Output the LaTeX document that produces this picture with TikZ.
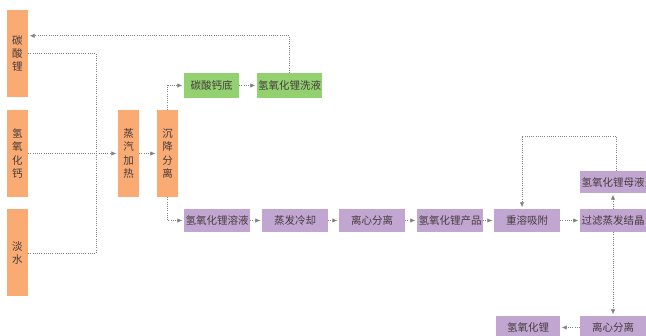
\documentclass[tikz,border=0pt]{standalone}
\usepackage{fontspec}
\newfontfamily\cjk{Noto Sans CJK SC}
\usepackage{tikz}
\usetikzlibrary{arrows.meta}
\usepackage{xcolor}
\definecolor{lith-orange}{RGB}{250,170,115}
\definecolor{lith-green}{RGB}{146,208,112}
\definecolor{lith-purple}{RGB}{194,166,210}
\definecolor{lith-grey}{RGB}{130,130,130}
\definecolor{lith-text}{RGB}{70,60,60}
\tikzstyle{tag}=[inner sep=0pt, align=center, text=lith-text, font=\cjk\fontsize{10.5}{13.3}\selectfont]
\tikzstyle{bar}=[tag, fill=lith-orange, minimum width=21pt, minimum height=87pt]
\tikzstyle{greenbox}=[tag, fill=lith-green, minimum height=25pt]
\tikzstyle{purplebox}=[tag, fill=lith-purple, minimum width=66pt, minimum height=23pt]
\tikzstyle{link}=[draw=lith-grey, line width=0.8pt, dash pattern=on 0.8pt off 1.4pt]
\tikzstyle{flow}=[link, -{Latex[length=5pt,width=4.5pt]}, shorten >=1.5pt]

\begin{document}
\begin{tikzpicture}[x=1pt, y=-1pt]
	\clip (0,0) rectangle (646,336);
	\node[bar] (lico) at (17.5,53.5) {碳\\酸\\锂};
	\node[bar] (caoh) at (17.5,153.5) {氢\\氧\\化\\钙};
	\node[bar] (water) at (17.5,253) {淡\\水};
	\node[bar] (heat) at (128.5,153.5) {蒸\\汽\\加\\热};
	\node[bar] (settle) at (167.5,153.5) {沉\\降\\分\\离};
	\node[greenbox, minimum width=55pt] (caco) at (211.5,85.5) {碳酸钙底};
	\node[greenbox, minimum width=65pt] (wash) at (289.5,85.5) {氢氧化锂洗液};
	\node[purplebox] (sol) at (217,220.5) {氢氧化锂溶液};
	\node[purplebox] (evap) at (295,220.5) {蒸发冷却};
	\node[purplebox] (cent) at (372,220.5) {离心分离};
	\node[purplebox] (prod) at (450,220.5) {氢氧化锂产品};
	\node[purplebox] (redis) at (527,220.5) {重溶吸附};
	\node[purplebox] (filt) at (613,220.5) {过滤蒸发结晶};
	\node[purplebox, minimum height=22pt] (mother) at (613,182) {氢氧化锂母液};
	\node[purplebox] (cent2) at (613,327.5) {离心分离};
	\node[purplebox, minimum width=64pt] (lioh) at (528,327.5) {氢氧化锂};
	\coordinate (mix) at (96,153.5);
	\coordinate (loop) at (616,136);
	\draw[link] (lico.east) -| (mix) |- (water.east);
	\draw[flow] (wash.north) |- ([yshift=-26pt]lico.north east);
	\draw[flow] (caoh) -- (heat);
	\draw[flow] (heat) -- (settle);
	\draw[flow] (settle.north) |- (caco.west);
	\draw[flow] (caco) -- (wash);
	\draw[flow] (settle.south) |- (sol.west);
	\draw[flow] (sol) -- (evap);
	\draw[flow] (evap) -- (cent);
	\draw[flow] (cent) -- (prod);
	\draw[flow] (prod) -- (redis);
	\draw[flow] (redis) -- (filt);
	\draw[flow] (filt) -- (mother);
	\draw[flow] ([xshift=3pt]mother.north) -- (loop) -| ([xshift=-5pt]redis.north);
	\draw[flow] (filt) -- (cent2);
	\draw[flow] (cent2) -- (lioh);
\end{tikzpicture}
\end{document}
